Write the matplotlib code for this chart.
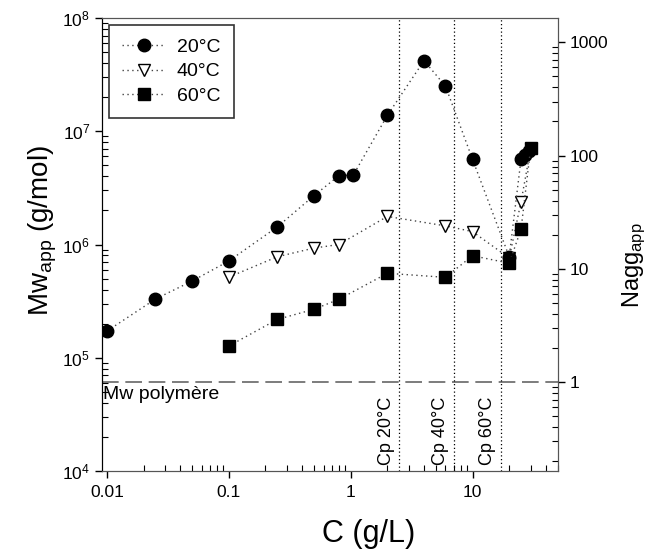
import matplotlib
matplotlib.use('Agg')
import matplotlib.pyplot as plt
from matplotlib.ticker import LogLocator, NullFormatter, FixedLocator, FixedFormatter

plt.rcParams['font.family'] = ['Liberation Sans', 'DejaVu Sans']
plt.rcParams['mathtext.fontset'] = 'custom'
plt.rcParams['mathtext.rm'] = 'Liberation Sans'
plt.rcParams['mathtext.it'] = 'Liberation Sans:italic'

# concentrations (g/L) and apparent Mw (g/mol) per temperature
c_20 = [0.01, 0.025, 0.05, 0.1, 0.25, 0.5, 0.8, 1.05, 2, 4, 6, 10, 20, 25, 27, 29]
mw_20 = [1.72e5, 3.3e5, 4.76e5, 7.15e5, 1.43e6, 2.7e6, 4.05e6, 4.1e6,
         1.38e7, 4.2e7, 2.5e7, 5.65e6, 7.8e5, 5.65e6, 6.2e6, 6.7e6]

c_40 = [0.1, 0.25, 0.5, 0.8, 2, 6, 10, 20, 25, 30]
mw_40 = [5.15e5, 7.8e5, 9.3e5, 1.0e6, 1.77e6, 1.46e6, 1.3e6, 7.6e5, 2.38e6, 7.0e6]

c_60 = [0.1, 0.25, 0.5, 0.8, 2, 6, 10, 20, 25, 30]
mw_60 = [1.27e5, 2.18e5, 2.68e5, 3.28e5, 5.57e5, 5.13e5, 7.96e5, 6.84e5, 1.36e6, 7.1e6]

mw_polymer = 6.1e4
cp_values = [2.5, 7, 17]
cp_labels = ['Cp 20°C', 'Cp 40°C', 'Cp 60°C']
nagg_ticks = [1, 10, 100, 1000]
nagg_labels = ['1', '10', '100', '1000']

fig = plt.figure(figsize=(6.6, 5.5), dpi=100)
ax = fig.add_axes([0.1545, 0.1436, 0.6905, 0.8237])

line_style = dict(color='#444444', lw=1, linestyle=(0, (1, 2.5)))
ax.plot(c_20, mw_20, marker='o', ms=9, mfc='black', mec='black', label='20°C', zorder=3, **line_style)
ax.plot(c_40, mw_40, marker='v', ms=9, mfc='white', mec='black', mew=1, label='40°C', zorder=2, **line_style)
ax.plot(c_60, mw_60, marker='s', ms=8, mfc='black', mec='black', label='60°C', zorder=4, **line_style)

ax.axhline(mw_polymer, color='#666666', lw=1.2, linestyle=(0, (10, 4)), zorder=1)
ax.text(0.0093, mw_polymer * 0.93, 'Mw polymère', fontsize=14, va='top', ha='left')

for cp, lab in zip(cp_values, cp_labels):
    ax.axvline(cp, color='black', lw=0.9, linestyle=(0, (1, 2)), zorder=1)
    ax.annotate(lab, xy=(cp, 1e4), xytext=(-3, 4), textcoords='offset points',
                rotation=90, ha='right', va='bottom', fontsize=13)

ax.set_xscale('log')
ax.set_yscale('log')
ax.set_xlim(0.0091, 50)
ax.set_ylim(1e4, 1e8)

ax.set_xlabel('C (g/L)', fontsize=22)
ax.set_ylabel('Mw$_{\\mathregular{app}}$ (g/mol)', fontsize=20)
ax.xaxis.set_label_coords(0.586, -0.105)
ax.yaxis.set_label_coords(-0.094, 0.532)

ax.xaxis.set_minor_locator(LogLocator(base=10, subs=range(2, 10)))
ax.yaxis.set_minor_locator(LogLocator(base=10, subs=range(2, 10)))
ax.xaxis.set_minor_formatter(NullFormatter())
ax.yaxis.set_minor_formatter(NullFormatter())
ax.xaxis.set_major_locator(FixedLocator([0.01, 0.1, 1, 10]))
ax.xaxis.set_major_formatter(FixedFormatter(['0.01', '0.1', '1', '10']))
ax.tick_params(which='major', direction='out', length=5, width=1, labelsize=12.5, top=False, right=False)
ax.tick_params(axis='x', which='major', pad=5)
ax.tick_params(which='minor', direction='in', length=4, width=0.8, top=False, right=False)

ax2 = ax.twinx()
ax2.set_yscale('log')
ax2.set_ylim(1e4 / mw_polymer, 1e8 / mw_polymer)
ax2.yaxis.set_major_locator(FixedLocator(nagg_ticks))
ax2.yaxis.set_major_formatter(FixedFormatter(nagg_labels))
ax2.yaxis.set_minor_locator(LogLocator(base=10, subs=range(2, 10)))
ax2.yaxis.set_minor_formatter(NullFormatter())
ax2.tick_params(which='major', direction='out', length=5, width=1, labelsize=12.5)
ax2.tick_params(which='minor', direction='in', length=4, width=0.8)
ax2.set_ylabel('Nagg$_{\\mathregular{app}}$', fontsize=17)
ax2.yaxis.set_label_coords(1.137, 0.455)

for a in (ax, ax2):
    for side in ('top', 'right', 'bottom'):
        a.spines[side].set_color('#555555')
    a.spines['left'].set_color('black')

ax.legend(loc='upper left', fancybox=False, edgecolor='#333333', fontsize=14,
          handlelength=2.2, handletextpad=0.6, borderaxespad=0.35, borderpad=0.7,
          labelspacing=0.35, framealpha=1)
ax.get_legend().get_frame().set_linewidth(1.2)

fig.savefig('out.png', dpi=100)
